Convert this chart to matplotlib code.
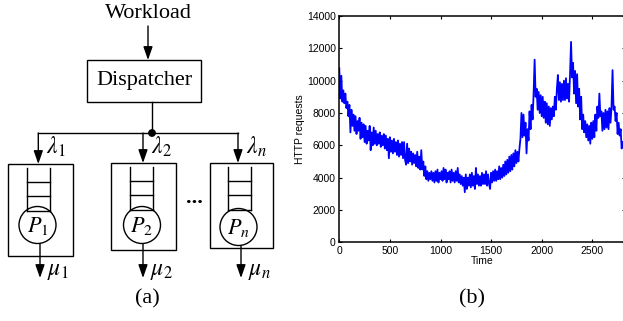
import numpy as np
import matplotlib
matplotlib.use("Agg")
import matplotlib.pyplot as plt
from matplotlib.patches import Rectangle, Circle

plt.rcParams['mathtext.fontset'] = 'stix'

# HTTP requests per time step (one value every 10 time units)
http_requests = [
    10760, 8900, 10300, 8700, 9400, 8600, 9200, 8300, 8700, 7800,
    8500, 6800, 8200, 7200, 7900, 6900, 7800, 6700, 7500, 6900,
    7700, 6400, 7400, 6500, 7300, 6200, 7200, 6100, 6900, 6300,
    7200, 5700, 6800, 6000, 7100, 6100, 6900, 6000, 6700, 6100,
    6800, 5900, 6600, 6000, 6700, 5800, 6600, 5700, 6400, 5200,
    6500, 5600, 6300, 5500, 6400, 5600, 6200, 5400, 6300, 5300,
    6100, 5400, 6200, 5200, 6200, 5100, 4800, 6100, 4900, 5800,
    5000, 5600, 4800, 5500, 4900, 5400, 4700, 5600, 4600, 5300,
    4500, 5700, 4500, 5000, 4100, 4700, 3900, 4400, 3800, 4300,
    3900, 4400, 3800, 4300, 3700, 4400, 3800, 4500, 3700, 4300,
    3900, 4400, 3800, 4600, 3900, 4500, 3700, 4300, 3900, 4400,
    3700, 4500, 3800, 4300, 3700, 4400, 3800, 4600, 3700, 4200,
    3600, 4100, 3500, 4000, 3100, 4200, 3300, 4000, 3500, 4200,
    3400, 4300, 3500, 4100, 3300, 4600, 3600, 4200, 3500, 4100,
    3500, 4300, 3600, 4200, 3600, 4400, 3500, 4200, 3600, 3300,
    4300, 3700, 4400, 3800, 4500, 3800, 4400, 3900, 4700, 3900,
    4600, 4000, 4800, 4100, 5000, 4200, 5100, 4300, 5300, 4400,
    5400, 4500, 5500, 4700, 5700, 4900, 5600, 5000, 5800, 6400,
    8000, 6500, 7900, 6600, 7400, 5500, 7000, 6300, 8100, 7000,
    8500, 7600, 9200, 11300, 9000, 9500, 8200, 9300, 8000, 9100,
    7800, 9000, 7700, 8700, 7400, 8600, 7300, 8400, 7200, 8300,
    7600, 8400, 7800, 9000, 8200, 9500, 10350, 8800, 9900, 8700,
    9800, 8800, 10000, 8800, 10150, 8900, 9800, 8700, 10400, 12400,
    10200, 11100, 9200, 10600, 8600, 10400, 8400, 9500, 7600, 9000,
    7000, 7900, 6800, 7500, 6500, 7300, 6300, 7200, 6100, 7400,
    6400, 7500, 6500, 7900, 6900, 8400, 7700, 9200, 7800, 8100,
    6900, 8000, 7000, 8200, 7100, 8100, 7000, 8300, 7400, 8400,
    10650, 8200, 8400, 7500, 8000, 6700, 7400, 6600, 7000, 5800,
    6200,
]
time_step = 10
time = np.arange(len(http_requests)) * time_step

x_ticks = [0, 500, 1000, 1500, 2000, 2500]
y_ticks = [0, 2000, 4000, 6000, 8000, 10000, 12000, 14000]

# server boxes of the diagram: label, box (l, r, top, bottom), queue (l, r), circle centre, in/out arrow x
servers = [
    ('1', (8.3, 72.7, 164, 256), (26.7, 50), (37.5, 225), 38.3, 40),
    ('2', (111, 176, 163, 250), (130, 153), (142, 225), 143, 143),
    ('n', (210, 272.7, 163, 248), (228, 251), (238.5, 227), 238, 241),
]

W, H = 623, 321
fig = plt.figure(figsize=(W / 100, H / 100), dpi=100)

# ---- (a) diagram, drawn in pixel coordinates ----
ax = fig.add_axes([0, 0, 1, 1])
ax.set_xlim(0, W)
ax.set_ylim(H, 0)
ax.axis('off')

serif = 'Liberation Serif'
lw = 1.0


def arrow(x, y0, y1):
    ax.annotate('', xy=(x, y1), xytext=(x, y0),
                arrowprops=dict(arrowstyle='-|>,head_length=0.8,head_width=0.28',
                                color='k', lw=lw, mutation_scale=10,
                                shrinkA=0, shrinkB=0))


ax.text(148, 14, 'Workload', family=serif, fontsize=16, ha='center', va='center')
arrow(148, 26, 60)
ax.add_patch(Rectangle((87, 60), 114, 42, fill=False, lw=lw, ec='k'))
ax.text(144, 81, 'Dispatcher', family=serif, fontsize=16, ha='center', va='center')
ax.plot([152, 152], [102, 133], color='k', lw=lw)
ax.plot([38.3, 238], [133, 133], color='k', lw=lw)
ax.add_patch(Circle((152, 133), 3.2, color='k'))

for name, (bl, br, bt, bb), (ql, qr), (cx, cy), xin, xout in servers:
    arrow(xin, 133, bt)
    ax.add_patch(Rectangle((bl, bt), br - bl, bb - bt, fill=False, lw=lw, ec='k'))
    qt = bt + 4
    ax.plot([ql, ql], [qt, qt + 43], color='k', lw=lw)
    ax.plot([qr, qr], [qt, qt + 43], color='k', lw=lw)
    for dy in (14, 28, 43):
        ax.plot([ql, qr], [qt + dy, qt + dy], color='k', lw=lw)
    ax.add_patch(Circle((cx, cy), 18.5, fill=False, lw=lw, ec='k'))
    ax.text(cx, cy + 1, r'$P_{%s}$' % name, fontsize=16, ha='center', va='center')
    arrow(xout, cy + 18.5, 278)
    ax.text(xin + 8, 147, r'$\lambda_{%s}$' % name, fontsize=17, ha='left', va='center')
    ax.text(xout + 7, 270, r'$\mu_{%s}$' % name, fontsize=17, ha='left', va='center')

ax.text(194, 203, '...', family=serif, fontsize=16, fontweight='bold',
        ha='center', va='baseline')
ax.text(147, 299, '(a)', family=serif, fontsize=16, ha='center', va='center')
ax.text(472, 299, '(b)', family=serif, fontsize=16, ha='center', va='center')

# ---- (b) HTTP request trace ----
left, right, top, bottom = 339.3, 624.5, 16, 242.3
px_per_unit = 0.1012
bx = fig.add_axes([left / W, 1 - bottom / H, (right - left) / W, (bottom - top) / H])
bx.plot(time, http_requests, color='#0000ff', lw=1.3)
bx.set_xlim(0, (right - left) / px_per_unit)
bx.set_ylim(0, 14000)
bx.set_xticks(x_ticks)
bx.set_yticks(y_ticks)
bx.tick_params(direction='in', top=True, right=True, length=2.5, width=0.8,
               labelsize=7.5, pad=2.5)
for lab in bx.get_xticklabels() + bx.get_yticklabels():
    lab.set_family('Liberation Sans')
for s in bx.spines.values():
    s.set_linewidth(1.1)
bx.set_xlabel('Time', family='Liberation Sans', fontsize=7.5, labelpad=0)
bx.set_ylabel('HTTP requests', family='Liberation Sans', fontsize=7.5, labelpad=1)

fig.savefig('out.png', dpi=100)
